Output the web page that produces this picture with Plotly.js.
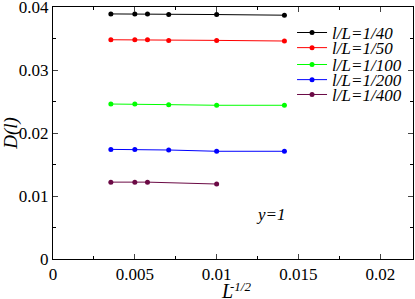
<!DOCTYPE html>
<html><head><meta charset="utf-8">
<script src="https://cdn.plot.ly/plotly-3.0.1.min.js"></script>
<style>html,body{margin:0;padding:0;background:#fff}</style>
</head><body><div id="plot" style="width:415px;height:299px"></div>
<script>
const seriesNames = ["l/L=1/40", "l/L=1/50", "l/L=1/100", "l/L=1/200", "l/L=1/400"];
const colors = ["#000000", "#ff0000", "#00ff00", "#0000ff", "#6b0a45"];
const x40 = [0.003536, 0.005, 0.005774, 0.007071, 0.01, 0.014142];
const y40 = [0.0389, 0.0389, 0.0389, 0.0388, 0.0388, 0.0387];
const x50 = [0.003536, 0.005, 0.005774, 0.007071, 0.01, 0.014142];
const y50 = [0.0348, 0.0348, 0.0348, 0.0347, 0.0347, 0.0346];
const x100 = [0.003536, 0.005, 0.007071, 0.01, 0.014142];
const y100 = [0.0246, 0.0246, 0.0245, 0.0244, 0.0244];
const x200 = [0.003536, 0.005, 0.007071, 0.01, 0.014142];
const y200 = [0.0174, 0.0174, 0.0173, 0.0171, 0.0171];
const x400 = [0.003536, 0.005, 0.005774, 0.01];
const y400 = [0.0122, 0.0122, 0.0122, 0.0119];
const xs = [x40, x50, x100, x200, x400];
const ys = [y40, y50, y100, y200, y400];
const xTicks = [0, 0.005, 0.01, 0.015, 0.02];
const xTickText = ["0", "0.005", "0.01", "0.015", "0.02"];
const yTicks = [0, 0.01, 0.02, 0.03, 0.04];
const yTickText = ["0", "0.01", "0.02", "0.03", "0.04"];

const font = "Liberation Serif, Times New Roman, serif";
const legendIds = ["legend", "legend2", "legend3", "legend4", "legend5"];
const traces = seriesNames.map((n, i) => ({
  x: xs[i], y: ys[i], mode: "lines+markers", name: "<i>" + n + "</i>",
  legend: legendIds[i],
  line: {color: colors[i], width: 1}, marker: {color: colors[i], size: 5}
}));
const layout = {
  width: 415, height: 299,
  margin: {l: 53, r: 2, t: 7, b: 40},
  paper_bgcolor: "#fff", plot_bgcolor: "#fff",
  font: {family: font, size: 17, color: "#000"},
  showlegend: true,
  xaxis: {range: [0, 0.022], tickvals: xTicks, ticktext: xTickText, showgrid: false, zeroline: false,
          showline: true, linecolor: "#000", linewidth: 1, mirror: "allticks", ticks: "inside", ticklen: 5,
          minor: {dtick: 0.0025, ticks: "inside", ticklen: 3, tickcolor: "#000"},
          ticklabeloverflow: "allow",
          tickfont: {family: font, size: 17}},
  yaxis: {range: [0, 0.04], tickvals: yTicks, ticktext: yTickText, showgrid: false, zeroline: false,
          showline: true, linecolor: "#000", linewidth: 1, mirror: "allticks", ticks: "inside", ticklen: 5,
          minor: {dtick: 0.005, ticks: "inside", ticklen: 3, tickcolor: "#000"},
          ticklabeloverflow: "allow", ticklabelstandoff: 0,
          title: {text: "<i>D(l)</i>", font: {family: font, size: 19}, standoff: 3},
          tickfont: {family: font, size: 17}},
  annotations: [
    {x: 0.01335, y: 0.0071, xref: "x", yref: "y", text: "<i>y=1</i>", showarrow: false,
     font: {family: font, size: 17}},
    {x: 0.483, y: -0.126, xref: "paper", yref: "paper", xanchor: "center", yanchor: "middle",
     text: "<i>L</i>", showarrow: false, font: {family: font, size: 20}},
    {x: 0.521, y: -0.111, xref: "paper", yref: "paper", xanchor: "center", yanchor: "middle",
     text: "<i>-1/2</i>", showarrow: false, font: {family: font, size: 13}}
  ]
};
const rowY = [0.897, 0.837, 0.770, 0.710, 0.651];
legendIds.forEach((id, i) => {
  layout[id] = {x: 0.664, y: rowY[i], xanchor: "left", yanchor: "middle", bgcolor: "rgba(0,0,0,0)",
                borderwidth: 0, font: {family: font, size: 17}, itemwidth: 30};
});
Plotly.newPlot("plot", traces, layout, {displayModeBar: false, staticPlot: true});
</script></body></html>
